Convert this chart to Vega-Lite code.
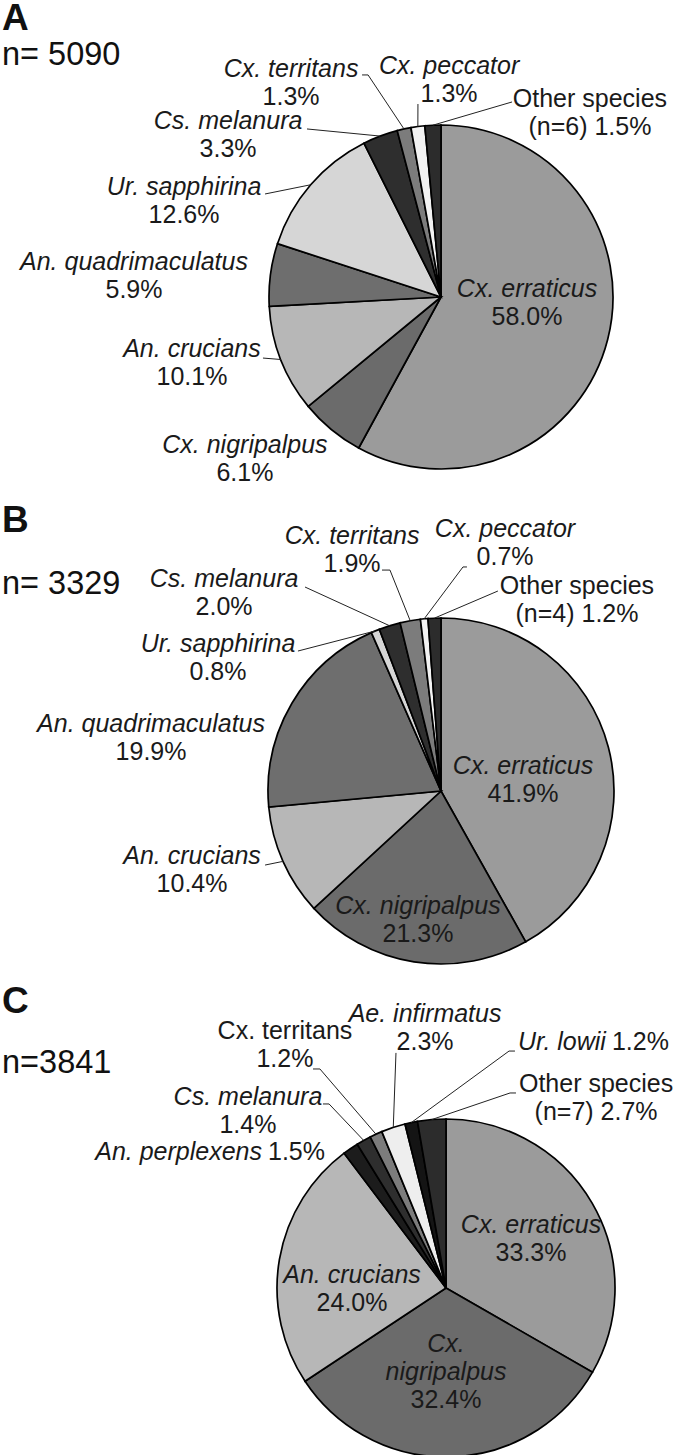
{
  "$schema": "https://vega.github.io/schema/vega-lite/v6.json",
  "background": "white",
  "padding": 0,
  "spacing": 0,
  "datasets": {
    "pies": [
      {"panel": "A", "species": "Cx. erraticus", "pct": 58.0},
      {"panel": "A", "species": "Cx. nigripalpus", "pct": 6.1},
      {"panel": "A", "species": "An. crucians", "pct": 10.1},
      {"panel": "A", "species": "An. quadrimaculatus", "pct": 5.9},
      {"panel": "A", "species": "Ur. sapphirina", "pct": 12.6},
      {"panel": "A", "species": "Cs. melanura", "pct": 3.3},
      {"panel": "A", "species": "Cx. territans", "pct": 1.3},
      {"panel": "A", "species": "Cx. peccator", "pct": 1.3},
      {"panel": "A", "species": "Other species", "pct": 1.5, "nOther": 6},
      {"panel": "B", "species": "Cx. erraticus", "pct": 41.9},
      {"panel": "B", "species": "Cx. nigripalpus", "pct": 21.3},
      {"panel": "B", "species": "An. crucians", "pct": 10.4},
      {"panel": "B", "species": "An. quadrimaculatus", "pct": 19.9},
      {"panel": "B", "species": "Ur. sapphirina", "pct": 0.8},
      {"panel": "B", "species": "Cs. melanura", "pct": 2.0},
      {"panel": "B", "species": "Cx. territans", "pct": 1.9},
      {"panel": "B", "species": "Cx. peccator", "pct": 0.7},
      {"panel": "B", "species": "Other species", "pct": 1.2, "nOther": 4},
      {"panel": "C", "species": "Cx. erraticus", "pct": 33.3},
      {"panel": "C", "species": "Cx. nigripalpus", "pct": 32.4},
      {"panel": "C", "species": "An. crucians", "pct": 24.0},
      {"panel": "C", "species": "An. perplexens", "pct": 1.5},
      {"panel": "C", "species": "Cs. melanura", "pct": 1.4},
      {"panel": "C", "species": "Cx. territans", "pct": 1.2},
      {"panel": "C", "species": "Ae. infirmatus", "pct": 2.3},
      {"panel": "C", "species": "Ur. lowii", "pct": 1.2},
      {"panel": "C", "species": "Other species", "pct": 2.7, "nOther": 7}
    ]
  },
  "vconcat": [
    {
      "width": 674,
      "height": 426,
      "title": {"text": "A", "subtitle": "n= 5090", "subtitlePadding": 1, "offset": -18.6},
      "data": {"name": "pies"},
      "transform": [
        {"filter": "datum.panel === 'A'"},
        {"window": [{"op": "row_number", "as": "rank"}]},
        {"joinaggregate": [{"op": "sum", "field": "pct", "as": "total"}]},
        {"window": [{"op": "sum", "field": "pct", "as": "cum"}], "sort": [{"field": "rank", "order": "ascending"}], "frame": [null, 0]},
        {"calculate": "2*PI*(datum.cum - datum.pct/2)/datum.total", "as": "mid"},
        {"calculate": "sin(datum.mid)", "as": "rimX"},
        {"calculate": "cos(datum.mid)", "as": "rimY"},
        {"calculate": "({'Cx. erraticus': {x: 0.5, y: 0, k: 2}, 'Cx. nigripalpus': {x: -1.14, y: -0.907, k: 2}, 'An. crucians': {x: -1.448, y: -0.349, k: 2, ex: -1.035, ey: -0.355}, 'An. quadrimaculatus': {x: -1.785, y: 0.157, k: 2}, 'Ur. sapphirina': {x: -1.494, y: 0.593, k: 2, ex: -1.023, ey: 0.599}, 'Cs. melanura': {x: -1.238, y: 0.977, k: 2, ex: -0.779, ey: 0.977}, 'Cx. territans': {x: -0.872, y: 1.279, k: 2, ex: -0.424, ey: 1.291, hx: -0.459}, 'Cx. peccator': {x: 0.047, y: 1.297, k: 2, ex: -0.134, ey: 1.122}, 'Other species': {x: 0.866, y: 1.105, k: 2, up: true, ex: 0.413, ey: 1.134}})[datum.species]", "as": "L"},
        {"calculate": "datum.L.x", "as": "lx"},
        {"calculate": "datum.L.y", "as": "ly"},
        {"calculate": "datum.L.k", "as": "k"},
        {"calculate": "datum.L.up === true", "as": "up"},
        {"calculate": "datum.L.ex", "as": "ex"},
        {"calculate": "datum.L.ey", "as": "ey"},
        {"calculate": "datum.L.hx", "as": "hx"},
        {"calculate": "datum.species === 'Other species' ? '(n=' + datum.nOther + ') ' + format(datum.pct, '.1f') + '%' : format(datum.pct, '.1f') + '%'", "as": "pctText"}
      ],
      "layer": [
        {
          "mark": {"type": "arc", "outerRadius": 172, "stroke": "#000000", "strokeWidth": 1.7},
          "encoding": {
            "theta": {"field": "pct", "type": "quantitative", "stack": true},
            "order": {"field": "rank", "type": "quantitative"},
            "color": {"field": "species", "type": "nominal", "legend": null,
              "scale": {"domain": ["Cx. erraticus", "Cx. nigripalpus", "An. crucians", "An. quadrimaculatus", "Ur. sapphirina", "Cs. melanura", "Cx. territans", "Cx. peccator", "Other species", "An. perplexens", "Ae. infirmatus", "Ur. lowii"],
                        "range": ["#9b9b9b", "#6b6b6b", "#b7b7b7", "#6e6e6e", "#d6d6d6", "#2e2e2e", "#7c7c7c", "#f2f2f2", "#2c2c2c", "#1c1c1c", "#eeeeee", "#141414"]}},
            "x": {"datum": 0, "type": "quantitative", "scale": {"domain": [-2.564, 1.3547], "nice": false, "zero": false}, "axis": null},
            "y": {"datum": 0, "type": "quantitative", "scale": {"domain": [-1.1919, 1.2849], "nice": false, "zero": false}, "axis": null}
          }
        },
        {
          "transform": [{"filter": "isValid(datum.ex)"}],
          "mark": {"type": "rule", "stroke": "#222222", "strokeWidth": 1},
          "encoding": {"x": {"field": "rimX", "type": "quantitative"}, "y": {"field": "rimY", "type": "quantitative"}, "x2": {"field": "ex"}, "y2": {"field": "ey"}}
        },
        {
          "transform": [{"filter": "isValid(datum.hx)"}],
          "mark": {"type": "rule", "stroke": "#222222", "strokeWidth": 1},
          "encoding": {"x": {"field": "ex", "type": "quantitative"}, "y": {"field": "ey", "type": "quantitative"}, "x2": {"field": "hx"}}
        },
        {
          "transform": [{"filter": "datum.k === 2 && !datum.up"}],
          "mark": {"type": "text", "fontStyle": "italic", "align": "center", "baseline": "alphabetic"},
          "encoding": {"x": {"field": "lx", "type": "quantitative"}, "y": {"field": "ly", "type": "quantitative"}, "text": {"field": "species"}}
        },
        {
          "transform": [{"filter": "datum.k === 2 && datum.up"}],
          "mark": {"type": "text", "align": "center", "baseline": "alphabetic"},
          "encoding": {"x": {"field": "lx", "type": "quantitative"}, "y": {"field": "ly", "type": "quantitative"}, "text": {"field": "species"}}
        },
        {
          "transform": [{"filter": "datum.k === 2"}],
          "mark": {"type": "text", "align": "center", "baseline": "alphabetic", "dy": 28},
          "encoding": {"x": {"field": "lx", "type": "quantitative"}, "y": {"field": "ly", "type": "quantitative"}, "text": {"field": "pctText"}}
        }
      ]
    },
    {
      "width": 674,
      "height": 377,
      "title": {"text": "B", "subtitle": "n= 3329", "subtitlePadding": 28, "offset": -84.5},
      "data": {"name": "pies"},
      "transform": [
        {"filter": "datum.panel === 'B'"},
        {"window": [{"op": "row_number", "as": "rank"}]},
        {"joinaggregate": [{"op": "sum", "field": "pct", "as": "total"}]},
        {"window": [{"op": "sum", "field": "pct", "as": "cum"}], "sort": [{"field": "rank", "order": "ascending"}], "frame": [null, 0]},
        {"calculate": "2*PI*(datum.cum - datum.pct/2)/datum.total", "as": "mid"},
        {"calculate": "sin(datum.mid)", "as": "rimX"},
        {"calculate": "cos(datum.mid)", "as": "rimY"},
        {"calculate": "({'Cx. erraticus': {x: 0.474, y: 0.098, k: 2}, 'Cx. nigripalpus': {x: -0.133, y: -0.711, k: 2}, 'An. crucians': {x: -1.439, y: -0.422, k: 2, ex: -1.017, ey: -0.428}, 'An. quadrimaculatus': {x: -1.676, y: 0.341, k: 2}, 'Ur. sapphirina': {x: -1.289, y: 0.803, k: 2, ex: -0.827, ey: 0.809}, 'Cs. melanura': {x: -1.254, y: 1.179, k: 2, ex: -0.786, ey: 1.179}, 'Cx. territans': {x: -0.514, y: 1.428, k: 2, ex: -0.295, ey: 1.277, hx: -0.341}, 'Cx. peccator': {x: 0.37, y: 1.468, k: 2, ex: 0.127, ey: 1.295, hx: 0.15}, 'Other species': {x: 0.786, y: 1.139, k: 2, up: true, ex: 0.329, ey: 1.156}})[datum.species]", "as": "L"},
        {"calculate": "datum.L.x", "as": "lx"},
        {"calculate": "datum.L.y", "as": "ly"},
        {"calculate": "datum.L.k", "as": "k"},
        {"calculate": "datum.L.up === true", "as": "up"},
        {"calculate": "datum.L.ex", "as": "ex"},
        {"calculate": "datum.L.ey", "as": "ey"},
        {"calculate": "datum.L.hx", "as": "hx"},
        {"calculate": "datum.species === 'Other species' ? '(n=' + datum.nOther + ') ' + format(datum.pct, '.1f') + '%' : format(datum.pct, '.1f') + '%'", "as": "pctText"}
      ],
      "layer": [
        {
          "mark": {"type": "arc", "outerRadius": 173, "stroke": "#000000", "strokeWidth": 1.7},
          "encoding": {
            "theta": {"field": "pct", "type": "quantitative", "stack": true},
            "order": {"field": "rank", "type": "quantitative"},
            "color": {"field": "species", "type": "nominal", "legend": null,
              "scale": {"domain": ["Cx. erraticus", "Cx. nigripalpus", "An. crucians", "An. quadrimaculatus", "Ur. sapphirina", "Cs. melanura", "Cx. territans", "Cx. peccator", "Other species", "An. perplexens", "Ae. infirmatus", "Ur. lowii"],
                        "range": ["#9b9b9b", "#6b6b6b", "#b7b7b7", "#6e6e6e", "#d6d6d6", "#2e2e2e", "#7c7c7c", "#f2f2f2", "#2c2c2c", "#1c1c1c", "#eeeeee", "#141414"]}},
            "x": {"datum": 0, "type": "quantitative", "scale": {"domain": [-2.5491, 1.3468], "nice": false, "zero": false}, "axis": null},
            "y": {"datum": 0, "type": "quantitative", "scale": {"domain": [-1.104, 1.0751], "nice": false, "zero": false}, "axis": null}
          }
        },
        {
          "transform": [{"filter": "isValid(datum.ex)"}],
          "mark": {"type": "rule", "stroke": "#222222", "strokeWidth": 1},
          "encoding": {"x": {"field": "rimX", "type": "quantitative"}, "y": {"field": "rimY", "type": "quantitative"}, "x2": {"field": "ex"}, "y2": {"field": "ey"}}
        },
        {
          "transform": [{"filter": "isValid(datum.hx)"}],
          "mark": {"type": "rule", "stroke": "#222222", "strokeWidth": 1},
          "encoding": {"x": {"field": "ex", "type": "quantitative"}, "y": {"field": "ey", "type": "quantitative"}, "x2": {"field": "hx"}}
        },
        {
          "transform": [{"filter": "datum.k === 2 && !datum.up"}],
          "mark": {"type": "text", "fontStyle": "italic", "align": "center", "baseline": "alphabetic"},
          "encoding": {"x": {"field": "lx", "type": "quantitative"}, "y": {"field": "ly", "type": "quantitative"}, "text": {"field": "species"}}
        },
        {
          "transform": [{"filter": "datum.k === 2 && datum.up"}],
          "mark": {"type": "text", "align": "center", "baseline": "alphabetic"},
          "encoding": {"x": {"field": "lx", "type": "quantitative"}, "y": {"field": "ly", "type": "quantitative"}, "text": {"field": "species"}}
        },
        {
          "transform": [{"filter": "datum.k === 2"}],
          "mark": {"type": "text", "align": "center", "baseline": "alphabetic", "dy": 28},
          "encoding": {"x": {"field": "lx", "type": "quantitative"}, "y": {"field": "ly", "type": "quantitative"}, "text": {"field": "pctText"}}
        }
      ]
    },
    {
      "width": 674,
      "height": 378,
      "title": {"text": "C", "subtitle": "n=3841", "subtitlePadding": 26, "offset": -78.5},
      "data": {"name": "pies"},
      "transform": [
        {"filter": "datum.panel === 'C'"},
        {"window": [{"op": "row_number", "as": "rank"}]},
        {"joinaggregate": [{"op": "sum", "field": "pct", "as": "total"}]},
        {"window": [{"op": "sum", "field": "pct", "as": "cum"}], "sort": [{"field": "rank", "order": "ascending"}], "frame": [null, 0]},
        {"calculate": "2*PI*(datum.cum - datum.pct/2)/datum.total", "as": "mid"},
        {"calculate": "sin(datum.mid)", "as": "rimX"},
        {"calculate": "cos(datum.mid)", "as": "rimY"},
        {"calculate": "({'Cx. erraticus': {x: 0.503, y: 0.325, k: 2}, 'Cx. nigripalpus': {x: 0, y: -0.379, k: 3}, 'An. crucians': {x: -0.556, y: 0.03, k: 2}, 'An. perplexens': {x: -1.071, y: 0.757, k: 1}, 'Cs. melanura': {x: -1.172, y: 1.083, k: 2, ex: -0.692, ey: 1.089, hx: -0.728}, 'Cx. territans': {x: -0.953, y: 1.473, k: 2, up: true, ex: -0.746, ey: 1.296, hx: -0.787}, 'Ae. infirmatus': {x: -0.124, y: 1.574, k: 2, ex: -0.296, ey: 1.391}, 'Ur. lowii': {x: 0.964, y: 1.408, k: 1, ex: 0.373, ey: 1.402, hx: 0.408}, 'Other species': {x: 0.888, y: 1.16, k: 2, up: true, ex: 0.379, ey: 1.154, hx: 0.414}})[datum.species]", "as": "L"},
        {"calculate": "datum.L.x", "as": "lx"},
        {"calculate": "datum.L.y", "as": "ly"},
        {"calculate": "datum.L.k", "as": "k"},
        {"calculate": "datum.L.up === true", "as": "up"},
        {"calculate": "datum.L.ex", "as": "ex"},
        {"calculate": "datum.L.ey", "as": "ey"},
        {"calculate": "datum.L.hx", "as": "hx"},
        {"calculate": "split(datum.species, ' ')", "as": "nameLines"},
        {"calculate": "datum.species === 'Other species' ? '(n=' + datum.nOther + ') ' + format(datum.pct, '.1f') + '%' : format(datum.pct, '.1f') + '%'", "as": "pctText"}
      ],
      "layer": [
        {
          "mark": {"type": "arc", "outerRadius": 169, "stroke": "#000000", "strokeWidth": 1.7},
          "encoding": {
            "theta": {"field": "pct", "type": "quantitative", "stack": true},
            "order": {"field": "rank", "type": "quantitative"},
            "color": {"field": "species", "type": "nominal", "legend": null,
              "scale": {"domain": ["Cx. erraticus", "Cx. nigripalpus", "An. crucians", "An. quadrimaculatus", "Ur. sapphirina", "Cs. melanura", "Cx. territans", "Cx. peccator", "Other species", "An. perplexens", "Ae. infirmatus", "Ur. lowii"],
                        "range": ["#9b9b9b", "#6b6b6b", "#b7b7b7", "#6e6e6e", "#d6d6d6", "#2e2e2e", "#7c7c7c", "#f2f2f2", "#2c2c2c", "#1c1c1c", "#eeeeee", "#141414"]}},
            "x": {"datum": 0, "type": "quantitative", "scale": {"domain": [-2.6391, 1.3491], "nice": false, "zero": false}, "axis": null},
            "y": {"datum": 0, "type": "quantitative", "scale": {"domain": [-1.0296, 1.2071], "nice": false, "zero": false}, "axis": null}
          }
        },
        {
          "transform": [{"filter": "isValid(datum.ex)"}],
          "mark": {"type": "rule", "stroke": "#222222", "strokeWidth": 1},
          "encoding": {"x": {"field": "rimX", "type": "quantitative"}, "y": {"field": "rimY", "type": "quantitative"}, "x2": {"field": "ex"}, "y2": {"field": "ey"}}
        },
        {
          "transform": [{"filter": "isValid(datum.hx)"}],
          "mark": {"type": "rule", "stroke": "#222222", "strokeWidth": 1},
          "encoding": {"x": {"field": "ex", "type": "quantitative"}, "y": {"field": "ey", "type": "quantitative"}, "x2": {"field": "hx"}}
        },
        {
          "transform": [{"filter": "datum.k === 2 && !datum.up"}],
          "mark": {"type": "text", "fontStyle": "italic", "align": "center", "baseline": "alphabetic"},
          "encoding": {"x": {"field": "lx", "type": "quantitative"}, "y": {"field": "ly", "type": "quantitative"}, "text": {"field": "species"}}
        },
        {
          "transform": [{"filter": "datum.k === 2 && datum.up"}],
          "mark": {"type": "text", "align": "center", "baseline": "alphabetic"},
          "encoding": {"x": {"field": "lx", "type": "quantitative"}, "y": {"field": "ly", "type": "quantitative"}, "text": {"field": "species"}}
        },
        {
          "transform": [{"filter": "datum.k === 2"}],
          "mark": {"type": "text", "align": "center", "baseline": "alphabetic", "dy": 28},
          "encoding": {"x": {"field": "lx", "type": "quantitative"}, "y": {"field": "ly", "type": "quantitative"}, "text": {"field": "pctText"}}
        },
        {
          "transform": [{"filter": "datum.k === 1"}],
          "mark": {"type": "text", "fontStyle": "italic", "align": "right", "baseline": "alphabetic", "dx": -3},
          "encoding": {"x": {"field": "lx", "type": "quantitative"}, "y": {"field": "ly", "type": "quantitative"}, "text": {"field": "species"}}
        },
        {
          "transform": [{"filter": "datum.k === 1"}],
          "mark": {"type": "text", "align": "left", "baseline": "alphabetic", "dx": 3},
          "encoding": {"x": {"field": "lx", "type": "quantitative"}, "y": {"field": "ly", "type": "quantitative"}, "text": {"field": "pctText"}}
        },
        {
          "transform": [{"filter": "datum.k === 3"}],
          "mark": {"type": "text", "fontStyle": "italic", "align": "center", "baseline": "alphabetic", "lineHeight": 28},
          "encoding": {"x": {"field": "lx", "type": "quantitative"}, "y": {"field": "ly", "type": "quantitative"}, "text": {"field": "nameLines"}}
        },
        {
          "transform": [{"filter": "datum.k === 3"}],
          "mark": {"type": "text", "align": "center", "baseline": "alphabetic", "dy": 56},
          "encoding": {"x": {"field": "lx", "type": "quantitative"}, "y": {"field": "ly", "type": "quantitative"}, "text": {"field": "pctText"}}
        }
      ]
    }
  ],
  "config": {
    "view": {"stroke": null},
    "title": {"anchor": "start", "dx": 2, "font": "Liberation Sans", "fontSize": 37, "fontWeight": "bold", "color": "#111111", "subtitleFont": "Liberation Sans", "subtitleFontSize": 32.5, "subtitleColor": "#111111"},
    "text": {"font": "Liberation Sans", "fontSize": 25, "color": "#1a1a1a"}
  }
}
